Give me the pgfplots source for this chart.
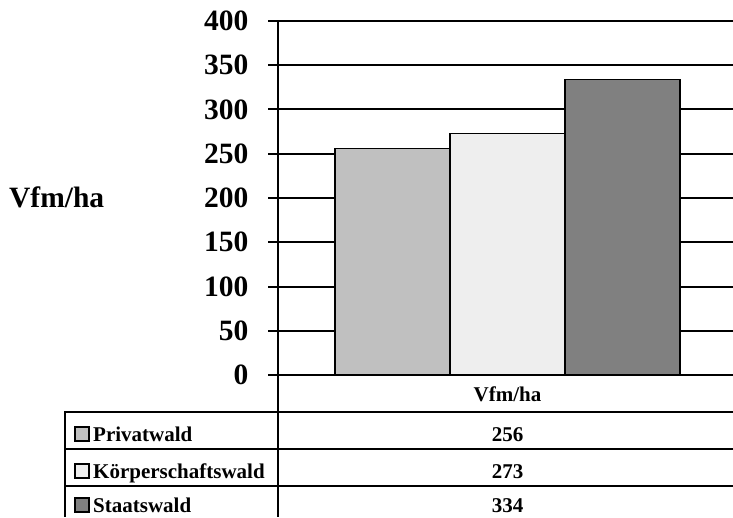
\documentclass[border=0pt]{standalone}
\usepackage{fontspec}
\setmainfont{Liberation Serif}
\usepackage{pgfplots}
\pgfplotsset{compat=1.18}

\definecolor{privat}{HTML}{C0C0C0}
\definecolor{koerper}{HTML}{EEEEEE}
\definecolor{staat}{HTML}{808080}

% Vorrat je Hektar nach Waldbesitzart
\newcommand\valPrivat{256}
\newcommand\valKoerper{273}
\newcommand\valStaat{334}

\newcommand\axisfont{\fontsize{29.5}{31}\selectfont\bfseries}
\newcommand\tablefont{\fontsize{21}{23}\selectfont\bfseries}

\begin{document}
\begin{tikzpicture}[x=1pt,y=1pt]
\useasboundingbox (0,0) rectangle (733,517);
\begin{axis}[
  at={(278pt,142pt)}, anchor=south west,
  x=1pt, y=0.885pt,
  xmin=-229.5, xmax=225.5, ymin=0, ymax=400,
  axis lines*=left,
  axis line style={line width=2pt},
  ytick={0,50,...,400},
  ymajorgrids, major grid style={black, line width=2pt},
  tick align=outside, major tick length=10pt,
  ytick style={black, line width=2pt},
  xtick=\empty,
  yticklabel style={font=\axisfont, xshift=-16pt},
  /pgf/number format/assume math mode=true,
  ybar, bar width=115,
  clip=false,
]
\addplot[bar shift=0pt, fill=privat, draw=black, line width=1.5pt] coordinates {(-115,\valPrivat)};
\addplot[bar shift=0pt, fill=koerper, draw=black, line width=1.5pt] coordinates {(0,\valKoerper)};
\addplot[bar shift=0pt, fill=staat, draw=black, line width=1.5pt] coordinates {(115,\valStaat)};
\end{axis}

% Achsenbeschriftung
\node[anchor=base west, font=\axisfont, inner sep=0pt] at (9,309) {Vfm/ha};

% Datentabelle
\draw[line width=2pt] (65,105) -- (733,105);
\draw[line width=2pt] (65,68) -- (733,68);
\draw[line width=2pt] (65,31) -- (733,31);
\draw[line width=2pt] (65,106) -- (65,0);
\draw[line width=2pt] (278,142) -- (278,0);

\node[anchor=base, font=\tablefont, inner sep=0pt] at (507.5,115.5) {Vfm/ha};

\draw[fill=privat, line width=1.5pt] (75,76) rectangle (89,90);
\draw[fill=koerper, line width=1.5pt] (75,39) rectangle (89,53);
\draw[fill=staat, line width=1.5pt] (75,5) rectangle (89,19);

\node[anchor=base west, font=\tablefont, inner sep=0pt] at (93,76) {Privatwald};
\node[anchor=base west, font=\tablefont, inner sep=0pt] at (93,39) {Körperschaftswald};
\node[anchor=base west, font=\tablefont, inner sep=0pt] at (93,5) {Staatswald};

\node[anchor=base, font=\tablefont, inner sep=0pt] at (507.5,76) {\valPrivat};
\node[anchor=base, font=\tablefont, inner sep=0pt] at (507.5,39) {\valKoerper};
\node[anchor=base, font=\tablefont, inner sep=0pt] at (507.5,5) {\valStaat};
\end{tikzpicture}
\end{document}
